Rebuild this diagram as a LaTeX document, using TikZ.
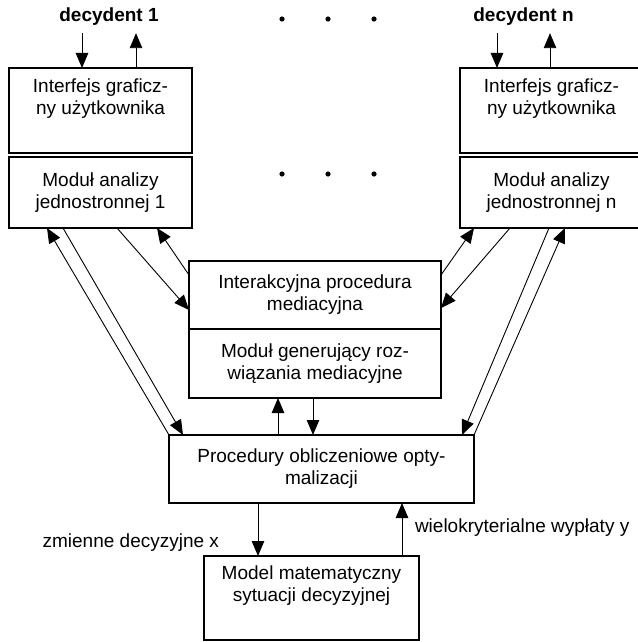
\documentclass[tikz,border=0pt]{standalone}
\usepackage{fontspec}
\setmainfont{Liberation Sans}
\usepackage{tikz}
\usetikzlibrary{arrows.meta,positioning,calc}
\newcommand{\boxfont}{\fontsize{19}{22}\selectfont}

\begin{document}
\begin{tikzpicture}[
  x=1pt, y=-1pt,
  every node/.style={outer sep=0pt},
  gui_box/.style  ={draw=black, line width=1.1pt, minimum width=183pt, minimum height=85pt, align=center, font=\boxfont},
  mod_box/.style  ={draw=black, line width=1.1pt, minimum width=183pt, minimum height=71pt, align=center, font=\boxfont},
  mid_box/.style  ={draw=black, line width=1.1pt, minimum width=252pt, minimum height=68pt, align=center, font=\boxfont},
  opt_box/.style  ={draw=black, line width=1.1pt, minimum width=305pt, minimum height=68pt, align=center, font=\boxfont},
  model_box/.style={draw=black, line width=1.1pt, minimum width=215pt, minimum height=84pt, align=center, font=\boxfont},
  dec_lbl/.style  ={font=\boxfont\bfseries},
  arr/.style      ={-{Triangle[length=15pt,width=12.5pt]}, line width=0.9pt, black},
  lbl/.style      ={font=\boxfont, inner sep=3pt},
]
  \useasboundingbox (0,0) rectangle (637,642);

  % decision makers
  \node[dec_lbl]                  (dec1)  at (109,17)     {decydent 1};
  \node[dec_lbl]                  (decn)  at (523.5,17)   {decydent n};
  \node[gui_box]                  (gui1)  at (100.5,110.5) {Interfejs graficz-\\ny użytkownika\\\strut};
  \node[gui_box]                  (guin)  at (551.5,110.5) {Interfejs graficz-\\ny użytkownika\\\strut};
  \node[mod_box, below=4pt of gui1] (mod1)                 {Moduł analizy\\jednostronnej 1};
  \node[mod_box, below=4pt of guin] (modn)                 {Moduł analizy\\jednostronnej n};

  % mediation
  \node[mid_box]                  (inter) at (315,295)    {Interakcyjna procedura\\mediacyjna};
  \node[mid_box, minimum height=69pt, below=0pt of inter] (gen) {Moduł generujący roz-\\wiązania mediacyjne};
  \node[opt_box]                  (opt)   at (321.5,469)  {Procedury obliczeniowe opty-\\malizacji};
  \node[model_box]                (model) at (311.5,598)  {Model matematyczny\\sytuacji decyzyjnej\\\strut};

  \foreach \dx in {282,328,374}
    \foreach \dy in {19,174}
      \fill (\dx,\dy) circle (2.6pt);

  \draw[arr] ([xshift=-27pt,yshift=-4pt]dec1.south) -- ([xshift=-27pt]dec1.south |- gui1.north);
  \draw[arr] ([xshift=27pt]dec1.south |- gui1.north) -- ([xshift=27pt,yshift=-4pt]dec1.south);
  \draw[arr] ([xshift=-26.5pt,yshift=-4pt]decn.south) -- ([xshift=-26.5pt]decn.south |- guin.north);
  \draw[arr] ([xshift=26.5pt]decn.south |- guin.north) -- ([xshift=26.5pt,yshift=-4pt]decn.south);

  \draw[arr] (opt.north west) -- ([xshift=38pt]mod1.south west);
  \draw[arr] ([xshift=54pt]mod1.south west) -- ([xshift=14pt]opt.north west);
  \draw[arr] ([xshift=108pt]mod1.south west) -- ([yshift=-15pt]inter.west);
  \draw[arr] ([yshift=20pt]inter.west) -- ([xshift=148pt]mod1.south west);

  \draw[arr] ([yshift=20pt]inter.east) -- ([xshift=14pt]modn.south west);
  \draw[arr] ([xshift=50pt]modn.south west) -- ([yshift=-13pt]inter.east);
  \draw[arr] ([xshift=89pt]modn.south west) -- ([xshift=-12pt]opt.north east);
  \draw[arr] (opt.north east) -- ([xshift=105pt]modn.south west);

  \draw[arr] ([xshift=-37pt]gen.south |- opt.north) -- ([xshift=-37pt]gen.south);
  \draw[arr] ([xshift=-2pt]gen.south) -- ([xshift=-2pt]gen.south |- opt.north);

  \draw[arr] ([xshift=-53.5pt]model.north |- opt.south) -- node[lbl, left=36pt, pos=0.74] {zmienne decyzyjne x} ([xshift=-53.5pt]model.north);
  \draw[arr] ([xshift=90.5pt]model.north) -- node[lbl, right=10pt, pos=0.53] {wielokryterialne wypłaty y} ([xshift=90.5pt]model.north |- opt.south);
\end{tikzpicture}
\end{document}
